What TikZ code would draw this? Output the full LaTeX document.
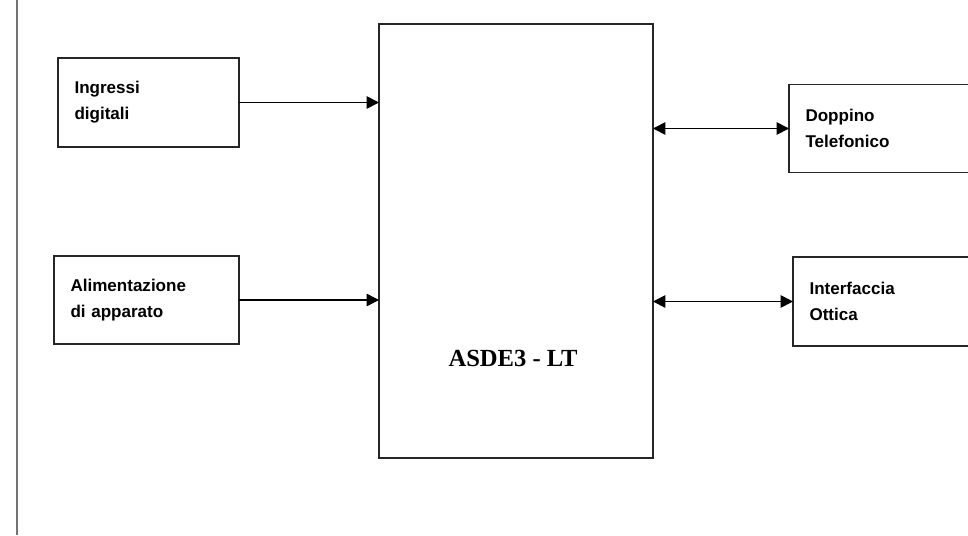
\documentclass[tikz,border=0pt]{standalone}
\usepackage{fontspec}
\setmainfont{Liberation Sans}
\newfontfamily\titlefont{Liberation Serif}
\usetikzlibrary{arrows.meta}

\begin{document}
\begin{tikzpicture}[x=0.02cm, y=-0.02cm,
  blk/.style={draw=black!85, line width=0.75pt, inner xsep=3.3mm, align=left, outer sep=0pt,
    font=\fontsize{9.7}{14.7}\selectfont\bfseries},
  link/.style={line width=0.9pt, -{Triangle[length=7pt,width=7pt]}},
  dlink/.style={line width=0.9pt, {Triangle[length=7pt,width=7pt]}-{Triangle[length=7pt,width=7pt]}}]
\useasboundingbox (0,0) rectangle (968,535);
\clip (0,0) rectangle (968,535);

\draw[black!55, line width=0.7pt] (17,0) -- (17,535);

\node[blk, text width=29.6mm, minimum height=17.8mm] (ing) at (148.5,102.5) {Ingressi\\digitali};
\node[blk, text width=30.4mm, minimum height=17.6mm] (alim) at (146.5,300) {Alimentazione\\di apparato};

\node[draw=black!85, line width=0.75pt, minimum width=54.8mm, minimum height=86.8mm, outer sep=0pt] (core) at (516,241) {};
\node[font=\fontsize{14}{16}\selectfont\titlefont\bfseries] (corelbl) at (513,358) {ASDE3 - LT};

\node[blk, text width=30.4mm, minimum height=17.7mm] (dop) at (881.5,128.5) {Doppino\\Telefonico};
\node[blk, text width=30.4mm, minimum height=17.8mm] (ott) at (885.5,301.5) {Interfaccia\\Ottica};

\draw[link] (ing) -- (ing -| core.west);
\draw[link] (alim) -- (alim -| core.west);
\draw[dlink] (dop -| core.east) -- (dop.west);
\draw[dlink] (ott -| core.east) -- (ott.west);
\end{tikzpicture}
\end{document}
